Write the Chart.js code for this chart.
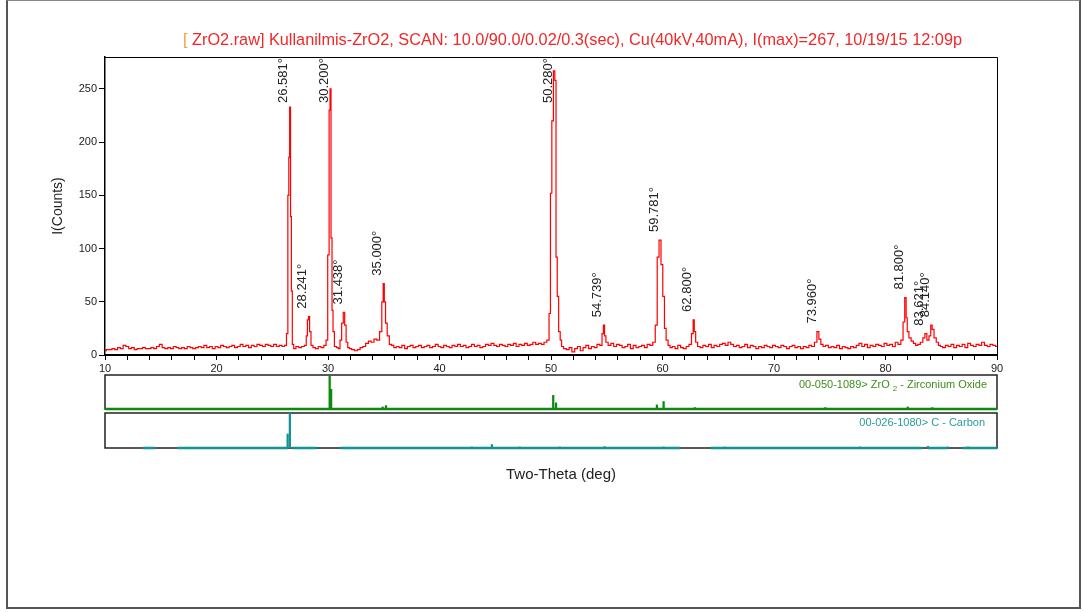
<!DOCTYPE html>
<html>
<head>
<meta charset="utf-8">
<script src="https://cdn.jsdelivr.net/npm/chart.js"></script>
<style>
  body { margin: 0; background: #fff; }
  #moldura { position: absolute; left: 6px; top: 0; width: 1071px; height: 606px; border: 2px solid #555; border-top: 1px solid #888; }
  canvas { position: absolute; left: 0; }
</style>
</head>
<body>
<div id="moldura"></div>
<canvas id="chart_scan" width="1084" height="380" style="top:0"></canvas>
<canvas id="chart_zro2" width="1084" height="45" style="top:370px"></canvas>
<canvas id="chart_carbon" width="1084" height="90" style="top:408px"></canvas>
<script>
// scan data (2-theta in deg, counts)
var twoTheta = [
  10.00,10.25,10.50,10.75,11.00,11.25,11.50,11.75,12.00,12.25,12.50,12.75,13.00,13.25,13.50,13.75,
  14.00,14.25,14.50,14.75,15.00,15.25,15.50,15.75,16.00,16.25,16.50,16.75,17.00,17.25,17.50,17.75,
  18.00,18.25,18.50,18.75,19.00,19.25,19.50,19.75,20.00,20.25,20.50,20.75,21.00,21.25,21.50,21.75,
  22.00,22.25,22.50,22.75,23.00,23.25,23.50,23.75,24.00,24.25,24.50,24.75,25.00,25.25,25.50,25.75,
  26.00,26.20,26.35,26.45,26.52,26.60,26.68,26.75,26.85,27.00,27.25,27.50,27.75,28.00,28.10,28.20,
  28.30,28.40,28.55,28.75,29.00,29.25,29.50,29.75,29.90,30.05,30.15,30.22,30.32,30.40,30.50,30.65,
  30.85,31.00,31.15,31.30,31.44,31.55,31.70,31.85,32.00,32.25,32.50,32.75,33.00,33.25,33.50,33.75,
  34.00,34.25,34.50,34.75,34.90,35.00,35.10,35.22,35.40,35.60,35.80,36.00,36.25,36.50,36.75,37.00,
  37.25,37.50,37.75,38.00,38.25,38.50,38.75,39.00,39.25,39.50,39.75,40.00,40.25,40.50,40.75,41.00,
  41.25,41.50,41.75,42.00,42.25,42.50,42.75,43.00,43.25,43.50,43.75,44.00,44.25,44.50,44.75,45.00,
  45.25,45.50,45.75,46.00,46.25,46.50,46.75,47.00,47.25,47.50,47.75,48.00,48.25,48.50,48.75,49.00,
  49.25,49.50,49.75,49.90,50.00,50.15,50.28,50.40,50.50,50.62,50.75,50.90,51.00,51.25,51.50,51.75,
  52.00,52.25,52.50,52.75,53.00,53.25,53.50,53.75,54.00,54.25,54.50,54.65,54.75,54.85,55.00,55.25,
  55.50,55.75,56.00,56.25,56.50,56.75,57.00,57.25,57.50,57.75,58.00,58.25,58.50,58.75,59.00,59.25,
  59.45,59.60,59.78,59.95,60.10,60.25,60.40,60.60,60.75,61.00,61.25,61.50,61.75,62.00,62.25,62.50,
  62.70,62.80,62.90,63.05,63.25,63.50,63.75,64.00,64.25,64.50,64.75,65.00,65.25,65.50,65.75,66.00,
  66.25,66.50,66.75,67.00,67.25,67.50,67.75,68.00,68.25,68.50,68.75,69.00,69.25,69.50,69.75,70.00,
  70.25,70.50,70.75,71.00,71.25,71.50,71.75,72.00,72.25,72.50,72.75,73.00,73.25,73.50,73.75,73.95,
  74.10,74.30,74.50,74.75,75.00,75.25,75.50,75.75,76.00,76.25,76.50,76.75,77.00,77.25,77.50,77.75,
  78.00,78.25,78.50,78.75,79.00,79.25,79.50,79.75,80.00,80.25,80.50,80.75,81.00,81.25,81.50,81.65,
  81.80,81.90,82.00,82.20,82.40,82.60,82.80,83.00,83.25,83.45,83.62,83.80,84.00,84.12,84.25,84.45,
  84.65,84.85,85.00,85.25,85.50,85.75,86.00,86.25,86.50,86.75,87.00,87.25,87.50,87.75,88.00,88.25,
  88.50,88.75,89.00,89.25,89.50,89.75,90.00
];
var counts = [
  4,5,5,6,5,7,6,9,8,6,7,5,6,6,7,6,
  6,7,6,8,10,7,6,7,6,8,7,6,7,6,8,7,
  6,7,8,7,9,7,8,6,8,7,9,8,7,8,9,7,
  8,10,8,9,7,9,8,10,9,8,10,9,8,10,8,9,
  8,9,20,150,186,233,130,60,10,6,8,7,8,9,18,33,
  36,22,9,7,6,8,7,9,14,94,230,250,110,42,22,8,
  7,6,14,30,40,28,12,7,6,5,4,5,7,8,11,13,
  12,15,14,22,50,67,50,30,18,10,9,7,8,7,9,6,
  8,9,7,8,9,7,8,9,7,8,10,8,7,9,8,7,
  9,8,10,8,9,7,8,10,8,9,7,8,10,9,11,9,
  8,10,9,8,10,9,11,8,10,9,11,9,10,12,10,11,
  10,12,14,39,152,220,267,258,92,55,22,14,8,6,5,7,
  3,6,8,4,7,9,6,8,7,10,9,20,28,18,12,9,
  11,8,10,9,7,8,10,6,9,7,8,9,7,10,9,12,
  28,92,108,85,55,25,14,9,7,8,6,9,7,6,8,10,
  20,33,22,12,8,7,9,8,10,7,9,8,10,11,9,12,
  10,8,9,7,8,10,7,9,8,6,8,7,9,8,7,9,
  8,7,9,8,6,8,9,7,8,6,8,7,9,8,12,22,
  15,10,8,9,7,8,7,9,6,8,7,6,8,7,9,11,
  8,10,7,9,8,10,9,8,11,9,10,8,12,10,14,31,
  54,35,22,16,13,11,9,10,12,16,20,14,18,28,24,16,
  12,9,8,7,9,8,10,7,9,8,10,7,11,9,8,10,
  9,12,9,8,10,9,8
];

// peak labels
var peakPos = [26.581, 28.241, 30.200, 31.438, 35.000, 50.280, 54.739, 59.781, 62.800, 73.960, 81.800, 83.621, 84.140];
var peakCounts = [233, 36, 250, 40, 67, 267, 28, 108, 33, 22, 54, 20, 28];
var peakText = ['26.581°', '28.241°', '30.200°', '31.438°', '35.000°', '50.280°', '54.739°', '59.781°', '62.800°', '73.960°', '81.800°', '83.621°', '84.140°'];

// axis ticks
var yTicks = [0, 50, 100, 150, 200, 250];
var xTickMarks = [10,12,14,16,18,20,22,24,26,28,30,32,34,36,38,40,42,44,46,48,50,52,54,56,58,60,62,64,66,68,70,72,74,76,78,80,82,84,86,88,90];

// reference patterns (stick positions and relative heights)
var zroStickPos = [30.15, 30.28, 34.9, 35.2, 50.2, 50.45, 59.5, 60.1, 62.9, 74.6, 82.0, 84.2];
var zroStickHeight = [100, 58, 6, 10, 40, 18, 12, 22, 4, 4, 6, 4];
var zroBase = [[10, 90]];
var carbonStickPos = [26.38, 26.58, 42.9, 44.7, 47.2, 50.8, 54.8, 60.1, 65.6, 77.7, 83.8, 85.6, 87.4];
var carbonStickHeight = [40, 100, 3, 10, 3, 3, 4, 3, 3, 3, 5, 3, 3];
var carbonBase = [[13.4, 14.5], [16.5, 26.4], [26.8, 29.0], [31.1, 61.6], [64.3, 83.3], [83.8, 85.6], [86.9, 90]];

var fonte = '"Liberation Sans", Arial, sans-serif';
var verde = '#0b8a0b';
var ciano = '#139393';

function pontos(xs, ys) {
  return xs.map(function (x, i) { return { x: x, y: ys[i] }; });
}

function linhaBase(faixas) {
  var pts = [];
  faixas.forEach(function (f) {
    pts.push({ x: f[0], y: 0 }, { x: f[1], y: 0 }, { x: f[1], y: null });
  });
  return pts;
}

// title + frame + peak labels for the main chart
var pluginScan = {
  id: 'pluginScan',
  afterDatasetsDraw: function (chart) {
    var ctx = chart.ctx;
    var a = chart.chartArea;
    var sx = chart.scales.x, sy = chart.scales.y;
    ctx.save();
    ctx.strokeStyle = '#000';
    ctx.lineWidth = 1;
    ctx.beginPath();
    ctx.moveTo(a.left, a.top + 0.5);
    ctx.lineTo(a.right + 0.5, a.top + 0.5);
    ctx.lineTo(a.right + 0.5, a.bottom);
    ctx.stroke();

    ctx.font = '13px ' + fonte;
    ctx.fillStyle = '#222';
    ctx.textAlign = 'left';
    ctx.textBaseline = 'middle';
    for (var i = 0; i < peakPos.length; i++) {
      var px = sx.getPixelForValue(peakPos[i]) - 6;
      var py = sy.getPixelForValue(peakCounts[i]) - 8;
      py = Math.max(py, a.top + 46);
      ctx.save();
      ctx.translate(px, py);
      ctx.rotate(-Math.PI / 2);
      ctx.fillText(peakText[i], 0, 0);
      ctx.restore();
    }

    ctx.font = '16.3px ' + fonte;
    ctx.textBaseline = 'middle';
    ctx.fillStyle = '#f2a03c';
    ctx.fillText('[', 183, 41);
    var w = ctx.measureText('[').width;
    ctx.fillStyle = '#f02828';
    ctx.fillText(' ZrO2.raw] Kullanilmis-ZrO2, SCAN: 10.0/90.0/0.02/0.3(sec), Cu(40kV,40mA), I(max)=267, 10/19/15 12:09p', 183 + w, 41);
    ctx.restore();
  }
};

new Chart(document.getElementById('chart_scan'), {
  type: 'line',
  data: {
    datasets: [{
      data: pontos(twoTheta, counts),
      borderColor: '#ff0000',
      borderWidth: 1.2,
      pointRadius: 0,
      stepped: 'middle'
    }]
  },
  options: {
    responsive: false,
    animation: false,
    layout: { padding: { left: 0, right: 87, top: 57, bottom: 0 } },
    plugins: { legend: { display: false }, tooltip: { enabled: false } },
    scales: {
      x: {
        type: 'linear', min: 10, max: 90,
        afterBuildTicks: function (s) { s.ticks = xTickMarks.map(function (v) { return { value: v }; }); },
        afterFit: function (s) { s.height = 25; },
        ticks: {
          autoSkip: false, maxRotation: 0, padding: 2, color: '#222',
          font: { family: fonte, size: 11 },
          callback: function (v) { return v % 10 === 0 ? String(v) : ''; }
        },
        grid: { drawOnChartArea: false, tickLength: 5, color: '#000' },
        border: { color: '#000', width: 2 }
      },
      y: {
        min: 0, max: 280,
        afterBuildTicks: function (s) { s.ticks = yTicks.map(function (v) { return { value: v }; }); },
        afterFit: function (s) { s.width = 105; },
        ticks: { padding: 2, color: '#222', font: { family: fonte, size: 11 } },
        grid: { drawOnChartArea: false, tickLength: 6, color: '#000' },
        border: { color: '#000', width: 1.5 },
        title: { display: true, text: 'I(Counts)', color: '#222', font: { family: fonte, size: 14 }, padding: { top: 50, bottom: 0 } }
      }
    }
  },
  plugins: [pluginScan]
});

// small panels with the reference patterns
function painel(id, stickPos, stickHeight, base, cor, corTexto, padBottom, desenhaTexto) {
  new Chart(document.getElementById(id), {
    type: 'bar',
    data: {
      datasets: [
        { type: 'bar', data: pontos(stickPos, stickHeight), backgroundColor: cor, barThickness: 1.6, grouped: false },
        { type: 'line', data: linhaBase(base), borderColor: cor, borderWidth: 2.5, pointRadius: 0, spanGaps: false, clip: false }
      ]
    },
    options: {
      responsive: false,
      animation: false,
      layout: { padding: { left: 105, right: 87, top: 5, bottom: padBottom } },
      plugins: { legend: { display: false }, tooltip: { enabled: false } },
      scales: {
        x: { type: 'linear', min: 10, max: 90, offset: false, display: false },
        y: { min: 0, max: 100, display: false }
      }
    },
    plugins: [{
      id: 'caixa_' + id,
      beforeDatasetsDraw: function (chart) {
        var a = chart.chartArea;
        var ctx = chart.ctx;
        ctx.save();
        ctx.strokeStyle = '#222';
        ctx.lineWidth = 1.5;
        ctx.strokeRect(a.left, a.top, a.right - a.left, a.bottom - a.top);
        ctx.restore();
      },
      afterDraw: function (chart) {
        var ctx = chart.ctx;
        ctx.save();
        ctx.fillStyle = corTexto;
        ctx.textBaseline = 'middle';
        desenhaTexto(ctx, chart.chartArea);
        ctx.restore();
      }
    }]
  });
}

painel('chart_zro2', zroStickPos, zroStickHeight, zroBase, verde, '#3f8c1c', 6, function (ctx, a) {
  var x = a.right - 10;
  var y = a.top + 10;
  ctx.font = '11px ' + fonte;
  ctx.textAlign = 'right';
  ctx.fillText(' - Zirconium Oxide', x, y);
  x -= ctx.measureText(' - Zirconium Oxide').width;
  ctx.font = '8px ' + fonte;
  ctx.fillText('2', x, y + 4);
  x -= ctx.measureText('2').width + 3;
  ctx.font = '11px ' + fonte;
  ctx.fillText('00-050-1089> ZrO', x, y);
});

painel('chart_carbon', carbonStickPos, carbonStickHeight, carbonBase, ciano, '#2a9b9b', 50, function (ctx, a) {
  ctx.font = '11px ' + fonte;
  ctx.textAlign = 'right';
  ctx.fillText('00-026-1080> C - Carbon', a.right - 12, a.top + 10);
  ctx.fillStyle = '#222';
  ctx.textAlign = 'center';
  ctx.font = '15px ' + fonte;
  ctx.fillText('Two-Theta (deg)', (a.left + a.right) / 2 + 10, a.bottom + 27);
});
</script>
</body>
</html>
